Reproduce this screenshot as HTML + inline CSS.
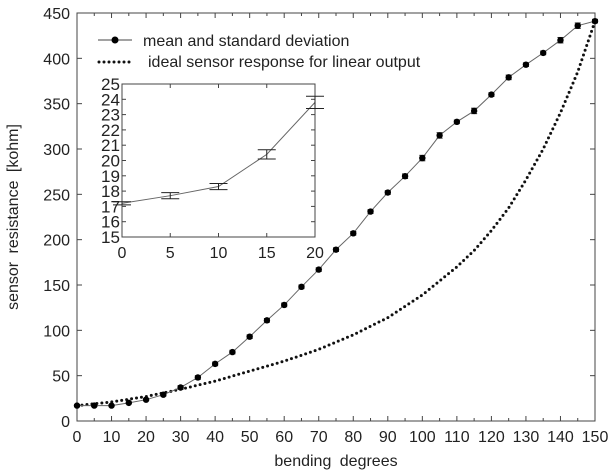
<!DOCTYPE html>
<html><head><meta charset="utf-8">
<style>
body{margin:0;background:#fff;width:612px;height:471px;overflow:hidden}
svg{display:block;font-family:"Liberation Sans",sans-serif}
</style></head><body>
<svg id="c" width="612" height="471"></svg>
<script>
const degrees=[0,5,10,15,20,25,30,35,40,45,50,55,60,65,70,75,80,85,90,95,100,105,110,115,120,125,130,135,140,145,150];
const meanVals=[17,17,17,20,23.5,29,37,48,63,76,93,111,128,148,167,189,207,231,252,270,290,315,330,342,360,379,393,406,420,436,441];
const errVals=[1,1,1,1,1,1.5,2,2,2,2,2,2,2,2,2,2,2,2,2,2.5,3,3,2,3,2,2.5,2,2,3,3,2];
const idealDeg=[0,10,20,30,40,50,60,70,80,90,100,110,115,120,125,130,135,140,145,150];
const idealVals=[17,21,27,35,44,55,66,79,95,114,139,170,188,210,235,266,300,340,385,441];
const xTicks=[0,10,20,30,40,50,60,70,80,90,100,110,120,130,140,150];
const yTicks=[0,50,100,150,200,250,300,350,400,450];
const insetDeg=[0,5,10,15,20];
const insetVals=[17.2,17.7,18.3,20.4,23.8];
const insetErr=[0.1,0.2,0.2,0.3,0.4];
const insetXTicks=[0,5,10,15,20];
const insetYTicks=[15,16,17,18,19,20,21,22,23,24,25];

const svg=document.getElementById('c');
const NS='http://www.w3.org/2000/svg';
function mk(t,a,p){const e=document.createElementNS(NS,t);for(const k in a)e.setAttribute(k,a[k]);(p||svg).appendChild(e);return e;}
const L=77,R=595,T=13,B=421;
const X=v=>L+(v/150)*(R-L), Y=v=>B-(v/450)*(B-T);
let e;
e=mk('rect',{x:L,y:T,width:R-L,height:B-T,fill:'none',stroke:'#444','stroke-width':1});

xTicks.forEach(v=>{
 mk('line',{x1:X(v),x2:X(v),y1:B,y2:B-5,stroke:'#444'});
 mk('line',{x1:X(v),x2:X(v),y1:T,y2:T+5,stroke:'#444'});
 if(v<150){mk('line',{x1:X(v+5),x2:X(v+5),y1:B,y2:B-3,stroke:'#444'});mk('line',{x1:X(v+5),x2:X(v+5),y1:T,y2:T+3,stroke:'#444'});}
 const t=mk('text',{x:X(v),y:442,'text-anchor':'middle','font-size':16,fill:'#222'});t.textContent=v;
 
});
yTicks.forEach(v=>{
 mk('line',{x1:L,x2:L+5,y1:Y(v),y2:Y(v),stroke:'#444'});
 mk('line',{x1:R,x2:R-5,y1:Y(v),y2:Y(v),stroke:'#444'});
 const t=mk('text',{x:70,y:Y(v)+6,'text-anchor':'end','font-size':16,fill:'#222'});t.textContent=v;
 
});
e=mk('text',{x:336,y:466,'text-anchor':'middle','font-size':16,fill:'#222','word-spacing':4});e.textContent='bending  degrees';

e=mk('text',{x:0,y:0,'text-anchor':'middle','font-size':16,fill:'#222',transform:'translate(18,217) rotate(-90)','word-spacing':4});e.textContent='sensor  resistance  [kohm]';

// ideal
e=mk('polyline',{points:idealDeg.map((d,i)=>X(d)+','+Y(idealVals[i])).join(' '),fill:'none',stroke:'#111','stroke-width':3,'stroke-linecap':'round','stroke-dasharray':'0 5'});

// mean
e=mk('polyline',{points:degrees.map((d,i)=>X(d)+','+Y(meanVals[i])).join(' '),fill:'none',stroke:'#666','stroke-width':1});

degrees.forEach((d,i)=>{
 const g=mk('g',{});
 
 const y1=Y(meanVals[i]+errVals[i]),y2=Y(meanVals[i]-errVals[i]);
 mk('line',{x1:X(d),x2:X(d),y1:y1,y2:y2,stroke:'#222'},g);
 mk('line',{x1:X(d)-3,x2:X(d)+3,y1:y1,y2:y1,stroke:'#222'},g);
 mk('line',{x1:X(d)-3,x2:X(d)+3,y1:y2,y2:y2,stroke:'#222'},g);
 mk('circle',{cx:X(d),cy:Y(meanVals[i]),r:3.2,fill:'#000'},g);
});
// legend
let lg=mk('g',{});
mk('line',{x1:98,x2:132,y1:40,y2:40,stroke:'#444'},lg);mk('circle',{cx:115,cy:40,r:3.5,fill:'#000'},lg);
e=mk('text',{x:143,y:46,'font-size':16,fill:'#222'},lg);e.textContent='mean and standard deviation';
lg=mk('g',{});
mk('line',{x1:99,x2:132,y1:62,y2:62,stroke:'#111','stroke-width':3,'stroke-linecap':'round','stroke-dasharray':'0 5'},lg);
e=mk('text',{x:148,y:67,'font-size':16,fill:'#222'},lg);e.textContent='ideal sensor response for linear output';
// inset
const iL=122,iR=315,iT=84,iB=237;
const IX=v=>iL+(v/20)*(iR-iL), IY=v=>iB-((v-15)/10)*(iB-iT);
const ig=mk('g',{});
mk('rect',{x:iL,y:iT,width:iR-iL,height:iB-iT,fill:'#fff',stroke:'#444'},ig);
insetXTicks.forEach(v=>{
 mk('line',{x1:IX(v),x2:IX(v),y1:iB,y2:iB-4,stroke:'#444'},ig);
 mk('line',{x1:IX(v),x2:IX(v),y1:iT,y2:iT+4,stroke:'#444'},ig);
 const t=mk('text',{x:IX(v),y:258,'text-anchor':'middle','font-size':16,fill:'#222'},ig);t.textContent=v;
 
});
insetYTicks.forEach(v=>{
 mk('line',{x1:iL,x2:iL+4,y1:IY(v),y2:IY(v),stroke:'#444'},ig);
 mk('line',{x1:iR,x2:iR-4,y1:IY(v),y2:IY(v),stroke:'#444'},ig);
 const t=mk('text',{x:iL-2,y:IY(v)+6,'text-anchor':'end','font-size':17,fill:'#222',textLength:19,lengthAdjust:'spacingAndGlyphs'},ig);t.textContent=v;
 
});
e=mk('polyline',{points:insetDeg.map((d,i)=>IX(d)+','+IY(insetVals[i])).join(' '),fill:'none',stroke:'#666','stroke-width':1},ig);

insetDeg.forEach((d,i)=>{
 const g=mk('g',{},ig);
 
 const y1=IY(insetVals[i]+insetErr[i]),y2=IY(insetVals[i]-insetErr[i]);
 mk('line',{x1:IX(d),x2:IX(d),y1:y1,y2:y2,stroke:'#222'},g);
 mk('line',{x1:IX(d)-9,x2:IX(d)+9,y1:y1,y2:y1,stroke:'#222'},g);
 mk('line',{x1:IX(d)-9,x2:IX(d)+9,y1:y2,y2:y2,stroke:'#222'},g);
});
</script>
</body></html>
